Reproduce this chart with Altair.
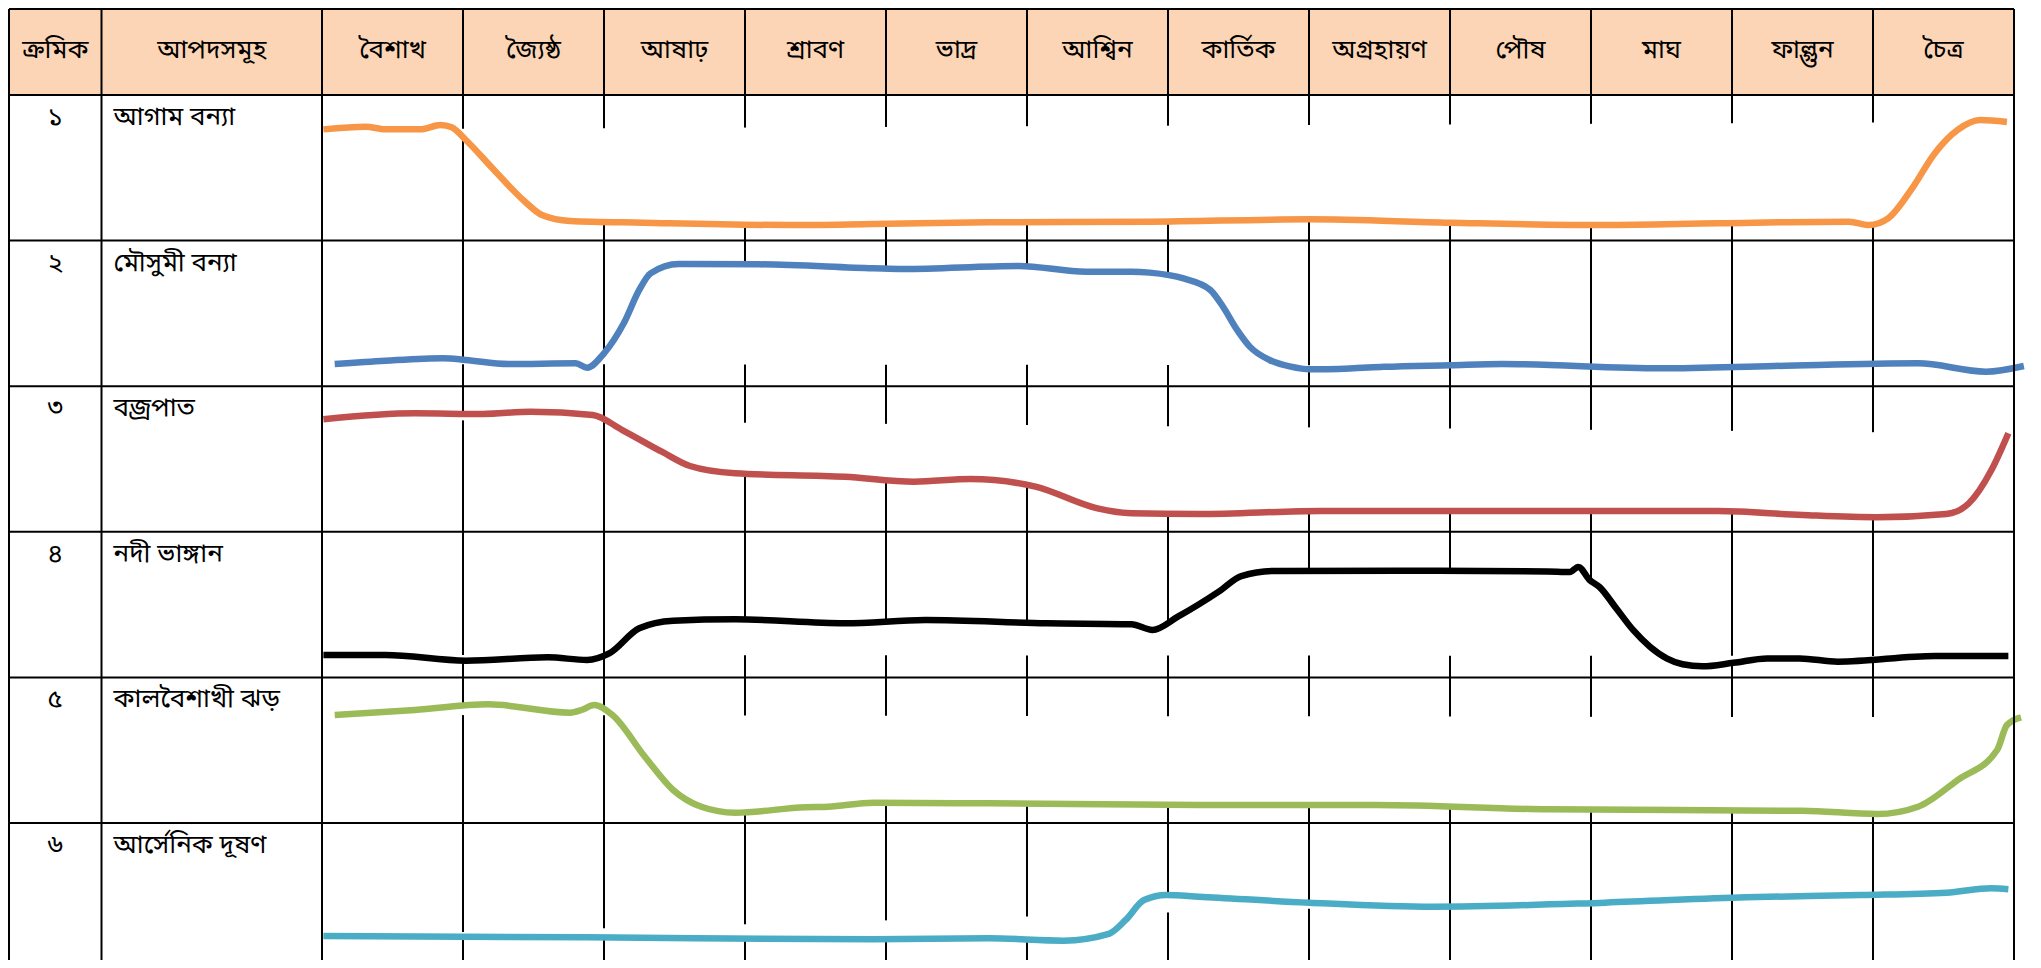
import altair as alt
import pandas as pd

# ---------------- data ----------------
MONTHS = ["বৈশাখ", "জ্যৈষ্ঠ", "আষাঢ়", "শ্রাবণ", "ভাদ্র", "আশ্বিন",
          "কার্তিক", "অগ্রহায়ণ", "পৌষ", "মাঘ", "ফাল্গুন", "চৈত্র"]
HEAD_SERIAL = "ক্রমিক"
HEAD_NAME = "আপদসমূহ"
SERIALS = ["১", "২", "৩", "৪", "৫", "৬"]
HAZARDS = ["আগাম বন্যা", "মৌসুমী বন্যা", "বজ্রপাত", "নদী ভাঙ্গান",
           "কালবৈশাখী ঝড়", "আর্সেনিক দূষণ"]

# x = position in months (0 = start of বৈশাখ, 12 = end of চৈত্র)
# level = relative intensity inside the row (0 = bottom, 100 = top)
FLOOD_EARLY_X = [0.01, 0.31, 0.45, 0.70, 0.84, 0.92, 1.02, 1.22, 1.44, 1.56, 1.76, 2.28, 3.31, 3.91,
                 4.73, 5.87, 7.00, 8.00, 9.10, 9.90, 10.83, 10.97, 11.11, 11.27, 11.44, 11.60, 11.76, 11.95]
FLOOD_EARLY_L = [76.4, 78.2, 76.4, 76.4, 79.4, 77.8, 69.1, 48.5, 26.7, 17.6, 13.5, 12.3, 10.7, 11.4,
                 12.6, 13.0, 14.6, 12.3, 10.7, 11.9, 13.0, 10.7, 15.5, 34.8, 60.2, 76.0, 82.8, 81.5]

FLOOD_MONSOON_X = [0.09, 0.45, 0.86, 1.02, 1.32, 1.80, 1.88, 2.00, 2.14, 2.25, 2.33, 2.53, 3.10, 3.91,
                   4.12, 4.94, 5.42, 5.74, 5.87, 6.11, 6.30, 6.39, 6.49, 6.58, 6.72, 6.87, 7.01, 7.29,
                   7.53, 8.00, 8.37, 9.50, 10.30, 11.32, 11.80, 12.07]
FLOOD_MONSOON_L = [15.2, 17.5, 19.2, 18.0, 15.2, 15.7, 12.7, 22.6, 43.2, 66.1, 77.5, 83.9, 83.7, 81.0,
                   80.5, 82.6, 78.6, 78.6, 78.0, 74.0, 66.1, 54.6, 38.7, 27.2, 18.0, 13.4, 11.6, 12.2,
                   13.3, 14.4, 15.2, 12.3, 13.9, 15.7, 10.0, 13.9]

LIGHTNING_X = [0.01, 0.66, 1.14, 1.48, 1.92, 2.13, 2.41, 2.61, 2.93, 3.71, 4.20, 4.60, 5.06, 5.50,
               5.74, 6.22, 7.08, 9.30, 9.90, 10.50, 11.03, 11.52, 11.68, 11.84, 11.96]
LIGHTNING_L = [77.3, 81.4, 80.9, 82.5, 80.2, 69.9, 55.0, 45.2, 40.2, 37.8, 34.4, 36.3, 31.0, 16.1,
               12.7, 12.2, 14.3, 14.3, 14.3, 11.5, 10.0, 12.2, 19.6, 42.4, 67.7]

EROSION_X = [0.01, 0.45, 1.02, 1.60, 1.88, 2.04, 2.25, 2.49, 2.93, 3.71, 4.28, 5.14, 5.74, 5.89, 6.07,
             6.36, 6.52, 6.76, 7.88, 8.69, 8.85, 8.91, 8.99, 9.06, 9.18, 9.30, 9.42, 9.54, 9.65,
             9.79, 10.01, 10.25, 10.48, 10.75, 11.44, 11.96]
EROSION_L = [15.4, 15.4, 11.5, 13.8, 12.0, 16.6, 33.7, 38.9, 39.9, 37.2, 39.4, 37.2, 36.5, 32.6, 41.7,
             58.9, 69.6, 73.1, 73.3, 72.8, 72.4, 75.9, 66.9, 62.1, 47.3, 32.4, 20.9, 12.9, 9.0,
             7.6, 10.0, 13.0, 13.0, 10.8, 14.7, 14.7]

NORWESTER_X = [0.09, 0.66, 1.18, 1.76, 1.84, 1.93, 2.06, 2.29, 2.49, 2.69, 2.93, 3.43, 3.59, 3.91,
               4.73, 6.22, 7.48, 8.69, 10.50, 11.03, 11.32, 11.60, 11.88, 11.95, 12.05]
NORWESTER_L = [74.2, 77.6, 81.5, 75.8, 77.6, 81.0, 74.2, 45.5, 22.7, 11.2, 7.1, 10.8, 11.2, 13.9,
               13.5, 12.4, 12.4, 9.4, 8.4, 6.2, 11.2, 29.5, 50.1, 67.3, 72.6]

ARSENIC_X = [0.01, 1.88, 3.91, 4.73, 5.26, 5.58, 5.70, 5.83, 5.99, 6.22, 7.00, 7.88, 9.10, 10.10,
             10.91, 11.52, 11.84, 11.96]
ARSENIC_L = [22.4, 21.5, 20.1, 20.8, 19.2, 23.8, 33.4, 47.1, 50.5, 49.4, 45.3, 42.5, 45.3, 49.0,
             50.5, 52.1, 55.2, 54.5]

SERIES_X = [FLOOD_EARLY_X, FLOOD_MONSOON_X, LIGHTNING_X, EROSION_X, NORWESTER_X, ARSENIC_X]
SERIES_L = [FLOOD_EARLY_L, FLOOD_MONSOON_L, LIGHTNING_L, EROSION_L, NORWESTER_L, ARSENIC_L]

# ---------------- style / layout ----------------
COLORS = ["#F79646", "#4F81BD", "#C0504D", "#000000", "#9BBB59", "#4BACC6"]
HEADER_FILL = "#FBD5B5"
FONT = "Noto Sans Bengali, Lohit Bengali, Vrinda, FreeSerif, sans-serif"
FONT_SIZE = 26

CW, CH = 2024, 952          # chart size in px
PX_MONTH = 141.0            # width of one month column
MONTH_LEFT = 314            # px where the month columns start
TABLE_LEFT = 1
NAME_LEFT = 93.5
TABLE_RIGHT = MONTH_LEFT + 12 * PX_MONTH
TABLE_TOP = 1
HEADER_BOTTOM = 87
HEADER_TEXT_MID = 42
ROW_PX = 145.6
ROW_TEXT_BASE = 30


def ux(px):
    return (px - MONTH_LEFT) / PX_MONTH


def uy(px):
    return (px - HEADER_BOTTOM) / ROW_PX


XS = alt.Scale(domain=[ux(0), ux(CW)], nice=False, zero=False)
YS = alt.Scale(domain=[uy(0), uy(CH)], nice=False, zero=False, reverse=True)


def X(f):
    return alt.X(f, type="quantitative", scale=XS, axis=None)


def Y(f):
    return alt.Y(f, type="quantitative", scale=YS, axis=None)


# ---------------- tables ----------------
pts = []
for i, (xs, ls) in enumerate(zip(SERIES_X, SERIES_L)):
    x0, x1, l0, l1 = xs[0], xs[-1], ls[0], ls[-1]
    for k, (x, l) in enumerate(zip(xs, ls)):
        chord = l0 + (l1 - l0) * (x - x0) / (x1 - x0)
        pts.append(dict(hazard=HAZARDS[i], order=k, x=x,
                        y=i + 1 - l / 100.0, yc=i + 1 - chord / 100.0))
df = pd.DataFrame(pts)

header_df = pd.DataFrame([dict(x=ux(TABLE_LEFT), x2=ux(TABLE_RIGHT), y=uy(TABLE_TOP), y2=0)])

head_lab = pd.DataFrame(
    [dict(t=HEAD_SERIAL, x=ux((TABLE_LEFT + NAME_LEFT) / 2))] +
    [dict(t=HEAD_NAME, x=ux((NAME_LEFT + MONTH_LEFT) / 2))] +
    [dict(t=m, x=i + 0.5) for i, m in enumerate(MONTHS)]
)
head_lab["y"] = uy(HEADER_TEXT_MID)

ser_df = pd.DataFrame([dict(t=s, x=ux((TABLE_LEFT + NAME_LEFT) / 2), y=i + ROW_TEXT_BASE / ROW_PX)
                       for i, s in enumerate(SERIALS)])
name_df = pd.DataFrame([dict(t=h, x=ux(NAME_LEFT + 12), y=i + ROW_TEXT_BASE / ROW_PX)
                        for i, h in enumerate(HAZARDS)])

inner_v = pd.DataFrame([dict(x=float(i), y=uy(TABLE_TOP), y2=len(HAZARDS)) for i in range(1, 12)])
border_v = pd.DataFrame([dict(x=v, y=uy(TABLE_TOP), y2=len(HAZARDS))
                         for v in [ux(TABLE_LEFT), ux(NAME_LEFT), 0.0, 12.0]])
border_h = pd.DataFrame([dict(y=v, x=ux(TABLE_LEFT), x2=12.0)
                         for v in [uy(TABLE_TOP)] + list(range(len(HAZARDS)))])

# ---------------- layers ----------------
header = alt.Chart(header_df).mark_rect(color=HEADER_FILL).encode(
    x=X("x"), x2="x2", y=Y("y"), y2="y2")

inner = alt.Chart(inner_v).mark_rule(color="black", strokeWidth=2).encode(
    x=X("x"), y=Y("y"), y2="y2")

mask = alt.Chart(df).mark_area(color="white", interpolate="monotone", opacity=1).encode(
    x=X("x"), y=Y("y"), y2="yc", detail="hazard:N")

lines = alt.Chart(df).mark_line(interpolate="monotone", strokeWidth=6.5).encode(
    x=X("x"), y=Y("y"),
    color=alt.Color("hazard:N", scale=alt.Scale(domain=HAZARDS, range=COLORS), legend=None),
    order=alt.Order("order:Q"))

bv = alt.Chart(border_v).mark_rule(color="black", strokeWidth=2).encode(
    x=X("x"), y=Y("y"), y2="y2")
bh = alt.Chart(border_h).mark_rule(color="black", strokeWidth=2).encode(
    y=Y("y"), x=X("x"), x2="x2")

htext = alt.Chart(head_lab).mark_text(font=FONT, fontSize=FONT_SIZE, baseline="middle", align="center",
                                      color="black").encode(x=X("x"), y=Y("y"), text="t:N")
stext = alt.Chart(ser_df).mark_text(font=FONT, fontSize=FONT_SIZE, baseline="alphabetic", align="center",
                                    color="black").encode(x=X("x"), y=Y("y"), text="t:N")
ntext = alt.Chart(name_df).mark_text(font=FONT, fontSize=FONT_SIZE, baseline="alphabetic", align="left",
                                     color="black").encode(x=X("x"), y=Y("y"), text="t:N")

chart = alt.layer(header, inner, mask, lines, bv, bh, htext, stext, ntext).properties(
    width=CW, height=CH, padding=0, autosize=alt.AutoSizeParams(type="none"),
    background="white"
).configure_view(strokeWidth=0)

chart.save("out.html", embed_options={"renderer": "svg", "actions": False})
